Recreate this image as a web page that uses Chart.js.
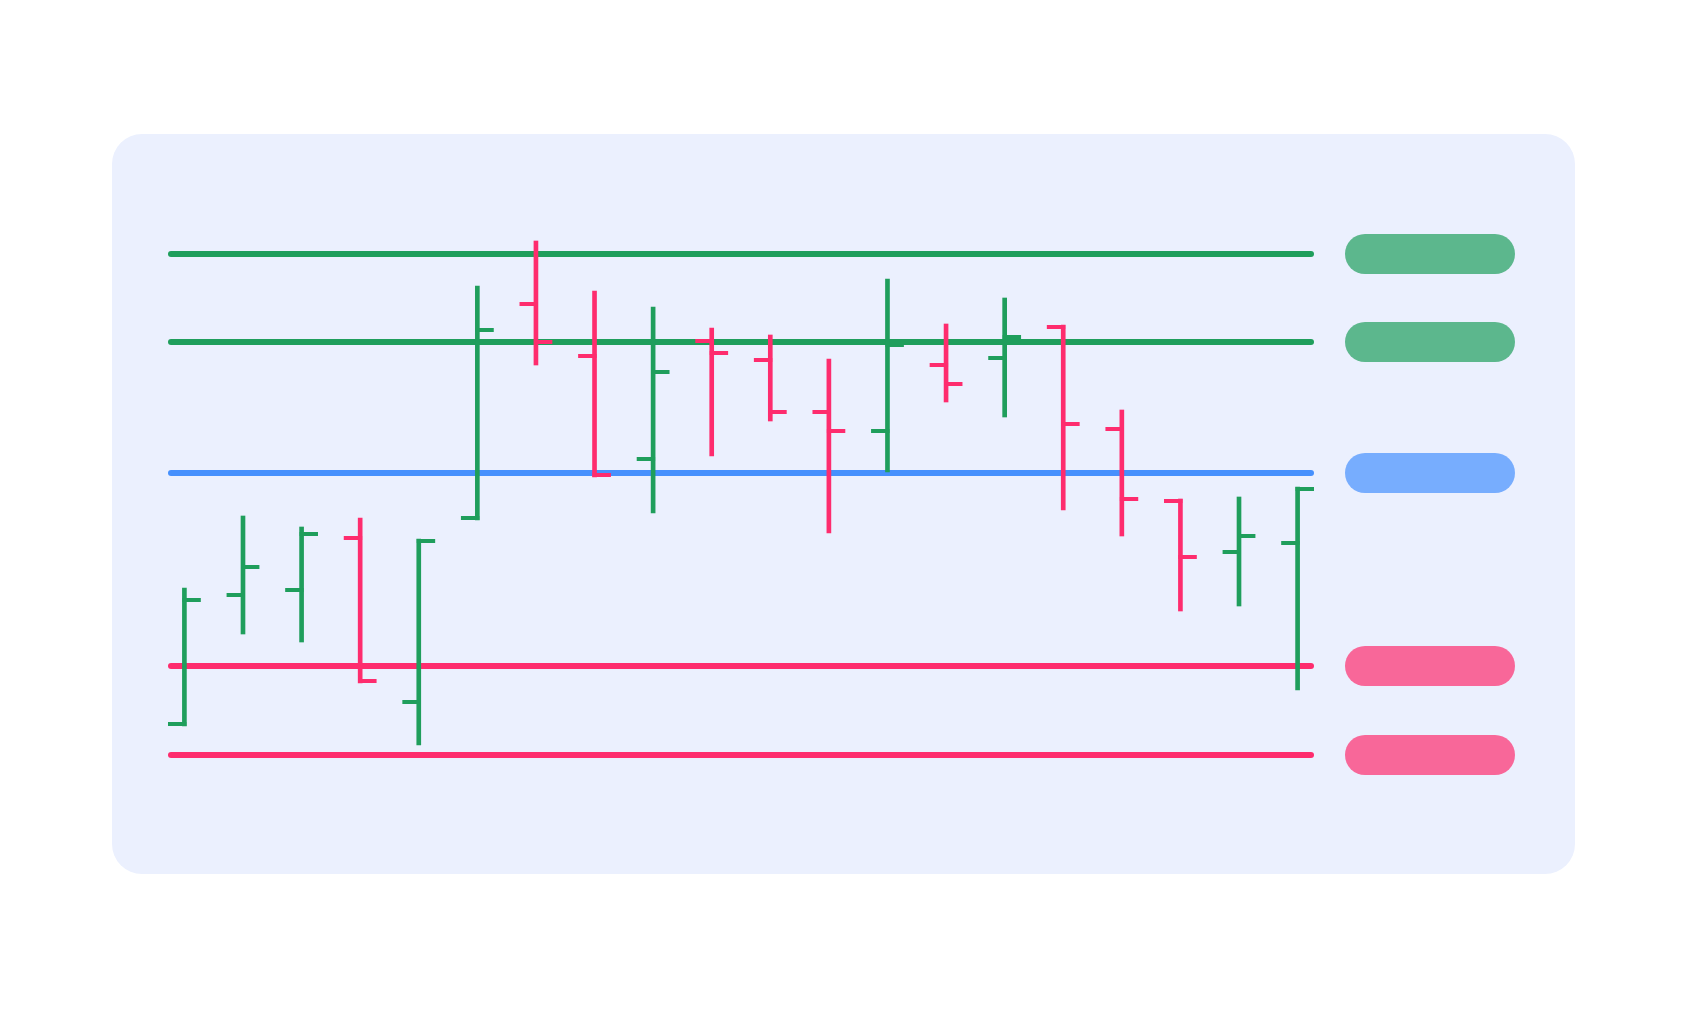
<!DOCTYPE html>
<html>
<head>
<meta charset="utf-8">
<script src="https://cdn.jsdelivr.net/npm/chart.js@4.4.1/dist/chart.umd.min.js"></script>
<style>
  html, body { margin: 0; padding: 0; background: #ffffff; }
  #wrap { position: relative; width: 1686px; height: 1009px; overflow: hidden; }
  #panel { position: absolute; left: 112px; top: 134px; width: 1463px; height: 740px;
           background: #ebf0fe; border-radius: 30px; }
  #c { position: absolute; left: 0; top: 0; }
</style>
</head>
<body>
<div id="wrap">
  <div id="panel"></div>
  <canvas id="c" width="1686" height="1009"></canvas>
</div>
<script>
// ---- Data ----
const opens  = [97.6, 110.5, 111.0, 116.2, 99.8, 118.2, 139.6, 134.4, 124.1, 135.9, 134.0, 128.8, 126.9, 133.5, 134.2, 137.3, 127.1, 119.9, 114.8, 115.7];
const highs  = [111.2, 118.4, 117.3, 118.2, 116.1, 141.4, 145.9, 140.9, 139.3, 137.2, 136.5, 134.1, 142.1, 137.6, 140.2, 137.5, 129.0, 120.1, 120.3, 121.3];
const lows   = [97.4, 106.6, 105.8, 101.7, 95.5, 118.0, 133.5, 122.3, 118.7, 124.4, 127.9, 116.7, 122.8, 129.8, 128.3, 119.0, 116.4, 108.9, 109.4, 101.0];
const closes = [110.0, 113.3, 116.6, 101.9, 115.9, 137.0, 135.8, 122.5, 132.8, 134.7, 128.8, 126.9, 135.5, 131.6, 136.3, 127.6, 120.1, 114.3, 116.4, 121.1];
const levelNames  = ['R2', 'R1', 'P', 'S1', 'S2'];
const levelValues = [144.6, 135.8, 122.7, 103.4, 94.5];
const levelKinds  = ['up', 'up', 'pivot', 'down', 'down'];

// ---- Styles ----
const UP = '#1f9e5c';
const DOWN = '#fe2c6e';
const PIVOT = '#4690fd';
const kindColor = { up: UP, down: DOWN, pivot: PIVOT };
const kindPill  = { up: 'rgba(31,158,92,0.7)', down: 'rgba(254,44,110,0.7)', pivot: 'rgba(70,144,253,0.7)' };
const TICK_FRAC = 0.28;

const rangeData = opens.map((o, i) => ({ x: i, y: [lows[i], highs[i]] }));
const barColors = opens.map((o, i) => closes[i] >= o ? UP : DOWN);

function rrect(ctx, x, y, w, h, r) {
  ctx.beginPath();
  ctx.moveTo(x + r, y);
  ctx.lineTo(x + w - r, y);
  ctx.arc(x + w - r, y + r, r, -Math.PI / 2, Math.PI / 2);
  ctx.lineTo(x + r, y + h);
  ctx.arc(x + r, y + r, r, Math.PI / 2, Math.PI * 1.5);
  ctx.closePath();
}

const levelsPlugin = {
  id: 'levels',
  beforeDatasetsDraw(chart) {
    const { ctx, chartArea, scales } = chart;
    ctx.save();
    ctx.lineWidth = 6;
    ctx.lineCap = 'round';
    levelValues.forEach((v, i) => {
      const y = scales.y.getPixelForValue(v);
      ctx.strokeStyle = kindColor[levelKinds[i]];
      ctx.beginPath();
      ctx.moveTo(chartArea.left + 3, y);
      ctx.lineTo(chartArea.right - 3, y);
      ctx.stroke();
    });
    ctx.restore();
  },
  afterDatasetsDraw(chart) {
    const { ctx, chartArea, scales } = chart;
    ctx.save();
    levelValues.forEach((v, i) => {
      const y = scales.y.getPixelForValue(v);
      ctx.fillStyle = kindPill[levelKinds[i]];
      rrect(ctx, chartArea.right + 31, y - 20, 170, 40, 20);
      ctx.fill();
    });
    ctx.restore();
  }
};

const ticksPlugin = {
  id: 'ohlcTicks',
  afterDatasetsDraw(chart) {
    const { ctx, scales } = chart;
    const xs = scales.x, ys = scales.y;
    const len = xs.getPixelForValue(TICK_FRAC) - xs.getPixelForValue(0);
    ctx.save();
    ctx.lineWidth = 4;
    ctx.lineCap = 'butt';
    opens.forEach((o, i) => {
      const x = xs.getPixelForValue(i);
      ctx.strokeStyle = barColors[i];
      const yo = ys.getPixelForValue(o);
      const yc = ys.getPixelForValue(closes[i]);
      ctx.beginPath();
      ctx.moveTo(x - len, yo); ctx.lineTo(x + 2, yo);
      ctx.moveTo(x - 2, yc); ctx.lineTo(x + len, yc);
      ctx.stroke();
    });
    ctx.restore();
  }
};

new Chart(document.getElementById('c'), {
  type: 'bar',
  data: {
    datasets: [{
      label: 'OHLC',
      data: rangeData,
      backgroundColor: barColors,
      borderWidth: 0,
      barThickness: 4,
      borderSkipped: false
    }]
  },
  options: {
    responsive: false,
    animation: false,
    devicePixelRatio: 1,
    layout: { padding: { left: 168, right: 372, top: 200, bottom: 209 } },
    plugins: { legend: { display: false }, tooltip: { enabled: false } },
    scales: {
      x: { type: 'linear', display: false, min: -TICK_FRAC, max: 19 + TICK_FRAC, offset: false },
      y: { type: 'linear', display: false, min: 90, max: 150 }
    }
  },
  plugins: [levelsPlugin, ticksPlugin]
});
</script>
</body>
</html>
